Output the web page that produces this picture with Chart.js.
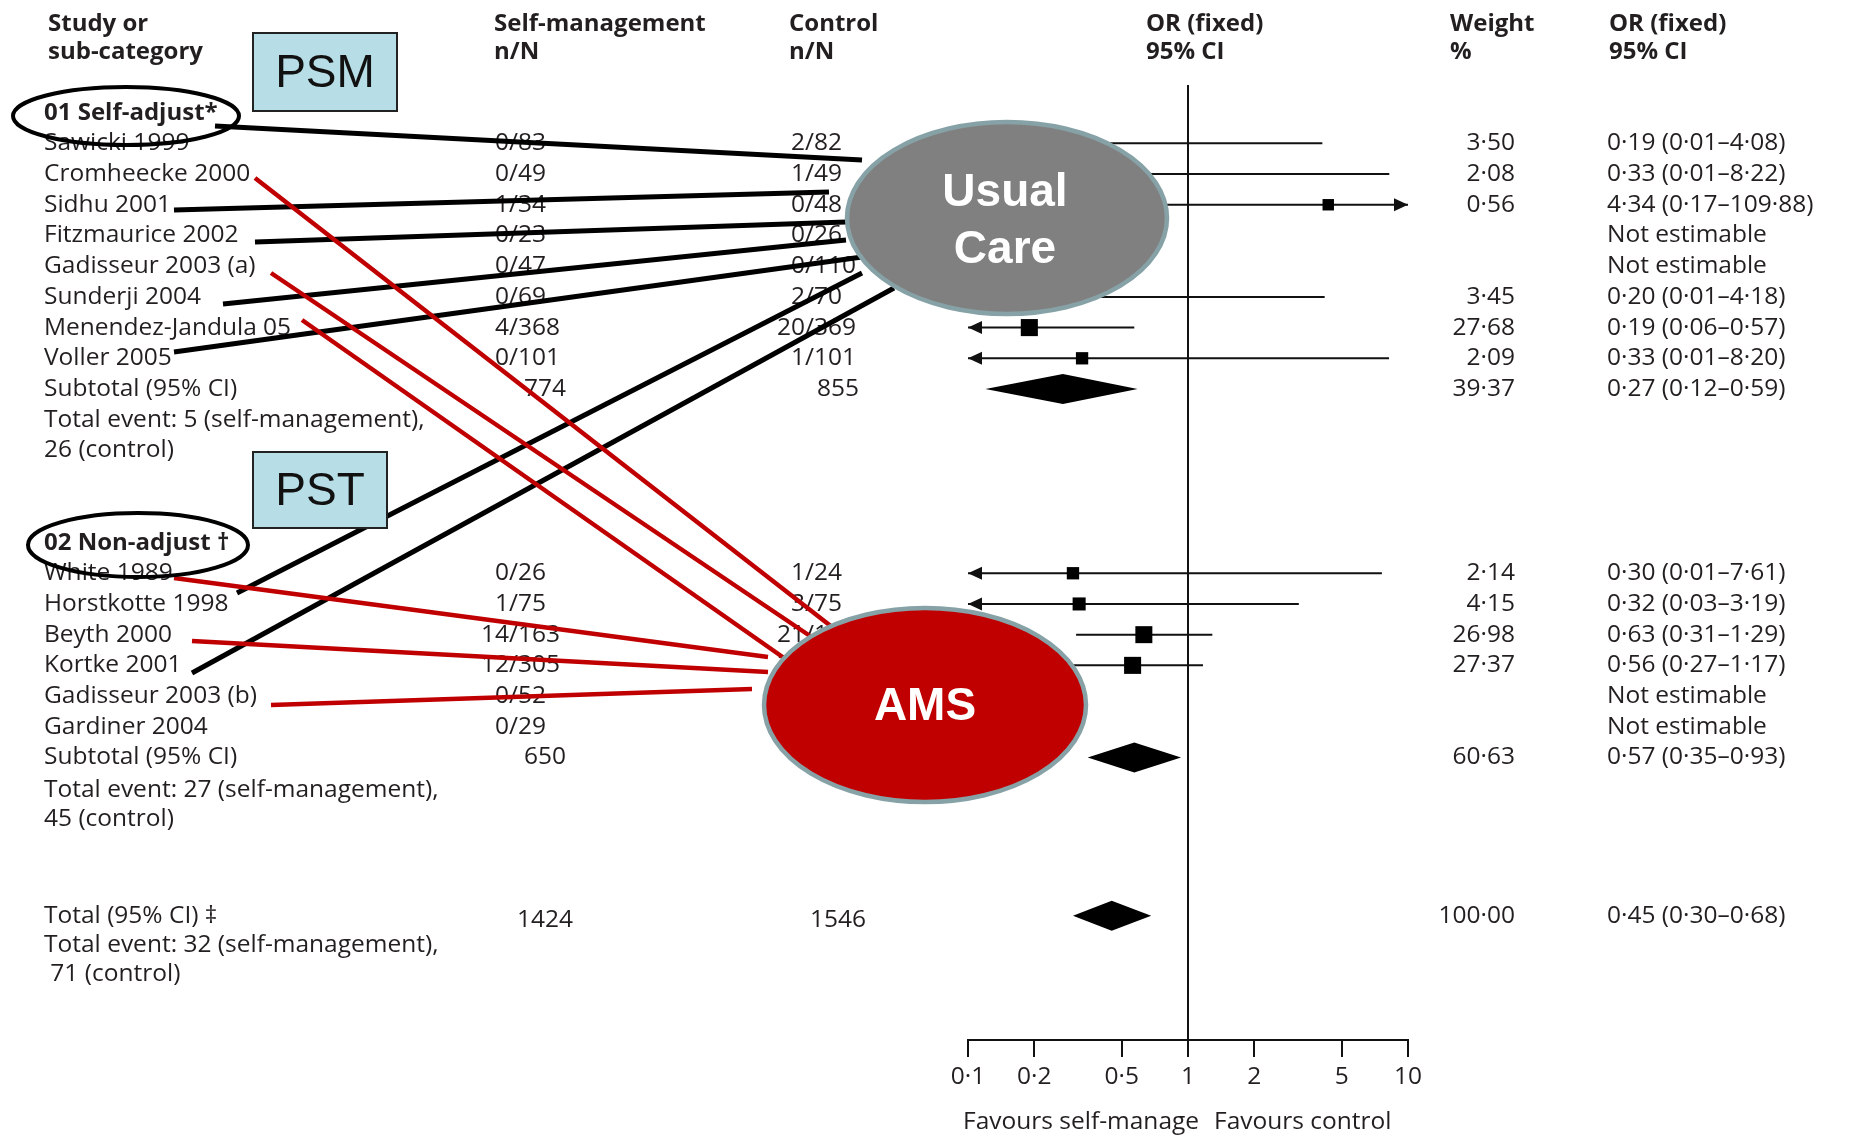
<!DOCTYPE html>
<html>
<head>
<meta charset="utf-8">
<script src="https://cdn.jsdelivr.net/npm/chart.js@4.4.1/dist/chart.umd.min.js"></script>
<style>
  html, body { margin: 0; padding: 0; background: #ffffff; }
  canvas { display: block; }
</style>
</head>
<body>
<canvas id="forest" width="1849" height="1138"></canvas>
<script>
// ---- Study-level data (row index = table line) ----
const studyNames = ['Sawicki 1999', 'Cromheecke 2000', 'Sidhu 2001', 'Fitzmaurice 2002',
  'Gadisseur 2003 (a)', 'Sunderji 2004', 'Menendez-Jandula 05', 'Voller 2005',
  'White 1989', 'Horstkotte 1998', 'Beyth 2000', 'Kortke 2001', 'Gadisseur 2003 (b)', 'Gardiner 2004'];
const studyRows = [0, 1, 2, 3, 4, 5, 6, 7, 14, 15, 16, 17, 18, 19];
const selfEvents = [0, 0, 1, 0, 0, 0, 4, 0, 0, 1, 14, 12, 0, 0];
const selfTotals = [83, 49, 34, 23, 47, 69, 368, 101, 26, 75, 163, 305, 52, 29];
const controlEvents = [2, 1, 0, 0, 0, 2, 20, 1, 1, 3, 21, 20, 0, 0];
const controlTotals = [82, 49, 48, 26, 110, 70, 369, 101, 24, 75, 162, 295, 110, 25];
const studyWeights = [3.50, 2.08, 0.56, null, null, 3.45, 27.68, 2.09, 2.14, 4.15, 26.98, 27.37, null, null];
const studyOR = [0.19, 0.33, 4.34, null, null, 0.20, 0.19, 0.33, 0.30, 0.32, 0.63, 0.56, null, null];
const studyLow = [0.01, 0.01, 0.17, null, null, 0.01, 0.06, 0.01, 0.01, 0.03, 0.31, 0.27, null, null];
const studyHigh = [4.08, 8.22, 109.88, null, null, 4.18, 0.57, 8.20, 7.61, 3.19, 1.29, 1.17, null, null];

// ---- Pooled estimates ----
const pooledNames = ['Subtotal (95% CI)', 'Subtotal (95% CI)', 'Total (95% CI) \u2021'];
const pooledRows = [8, 20, 25.15];
const pooledSelfN = [774, 650, 1424];
const pooledControlN = [855, 691, 1546];
const pooledWeights = [39.37, 60.63, 100.00];
const pooledOR = [0.27, 0.57, 0.45];
const pooledLow = [0.12, 0.35, 0.30];
const pooledHigh = [0.59, 0.93, 0.68];
const pooledSelfEvents = [5, 27, 32];
const pooledControlEvents = [26, 45, 71];
const eventRows = [[9, 10], [21.05, 22], [26.1, 27.05]];

// ---- Subgroup headings ----
const groupNames = ['01 Self-adjust*', '02 Non-adjust \u2020'];
const groupRows = [-0.98, 13.03];

// ---- Axis ----
const xTicks = [0.1, 0.2, 0.5, 1, 2, 5, 10];
const xMin = 0.1, xMax = 10;
const yMin = -1.9, yMax = 29.2;

const TXT = '#231f20';
const FONT = '"Open Sans", Lato, sans-serif';
const dot = v => String(v).replace('.', '\u00B7');
const fmt2 = v => v.toFixed(2).replace('.', '\u00B7');
const ciText = (o, l, h) => `${fmt2(o)} (${fmt2(l)}\u2013${fmt2(h)})`;

// squares for individual study estimates
const squarePoints = [];
const squareRadii = [];
studyOR.forEach((o, i) => {
  if (o === null) return;
  squarePoints.push({ x: o, y: studyRows[i] });
  const side = 10.5 + 1.25 * Math.sqrt(studyWeights[i]);
  squareRadii.push(side / Math.SQRT2);
});

// confidence intervals, arrows and diamonds drawn against the chart scales
const forestMarks = {
  id: 'forestMarks',
  beforeDatasetsDraw(chart) {
    const { ctx, scales: { x, y } } = chart;
    ctx.save();
    ctx.strokeStyle = '#111';
    ctx.fillStyle = '#111';
    ctx.lineWidth = 2;
    studyOR.forEach((o, i) => {
      if (o === null) return;
      const yy = y.getPixelForValue(studyRows[i]);
      const lo = Math.max(studyLow[i], xMin), hi = Math.min(studyHigh[i], xMax);
      const x1 = x.getPixelForValue(lo), x2 = x.getPixelForValue(hi);
      ctx.beginPath();
      ctx.moveTo(x1, yy);
      ctx.lineTo(x2, yy);
      ctx.stroke();
      if (studyLow[i] < xMin) {
        ctx.beginPath();
        ctx.moveTo(x1, yy);
        ctx.lineTo(x1 + 14, yy - 6.5);
        ctx.lineTo(x1 + 14, yy + 6.5);
        ctx.closePath();
        ctx.fill();
      }
      if (studyHigh[i] > xMax) {
        ctx.beginPath();
        ctx.moveTo(x2, yy);
        ctx.lineTo(x2 - 14, yy - 6.5);
        ctx.lineTo(x2 - 14, yy + 6.5);
        ctx.closePath();
        ctx.fill();
      }
    });
    ctx.fillStyle = '#000';
    pooledOR.forEach((o, i) => {
      const yy = y.getPixelForValue(pooledRows[i]);
      ctx.beginPath();
      ctx.moveTo(x.getPixelForValue(pooledLow[i]), yy);
      ctx.lineTo(x.getPixelForValue(o), yy - 15);
      ctx.lineTo(x.getPixelForValue(pooledHigh[i]), yy);
      ctx.lineTo(x.getPixelForValue(o), yy + 15);
      ctx.closePath();
      ctx.fill();
    });
    ctx.restore();
  }
};

// table columns
const COL = {
  study: 44, selfSlash: 509, selfTotal: 545, ctrlSlash: 805, ctrlTotal: 838,
  weightRight: 1515, orText: 1607
};

function txt(ctx, s, x, y, align, font) {
  ctx.font = font;
  ctx.textAlign = align;
  ctx.fillText(s, x, y);
}

const tableText = {
  id: 'tableText',
  afterDatasetsDraw(chart) {
    const { ctx, scales: { x, y } } = chart;
    const reg = `24.5px ${FONT}`;
    const bold = `bold 24px ${FONT}`;
    ctx.save();
    ctx.fillStyle = TXT;
    ctx.textBaseline = 'middle';

    // headings
    const h1 = 24, h2 = 52;
    txt(ctx, 'Study or', 48, h1, 'left', bold);
    txt(ctx, 'sub-category', 48, h2, 'left', bold);
    txt(ctx, 'Self-management', 494, h1, 'left', bold);
    txt(ctx, 'n/N', 494, h2, 'left', bold);
    txt(ctx, 'Control', 789, h1, 'left', bold);
    txt(ctx, 'n/N', 789, h2, 'left', bold);
    txt(ctx, 'OR (fixed)', 1146, h1, 'left', bold);
    txt(ctx, '95% CI', 1146, h2, 'left', bold);
    txt(ctx, 'Weight', 1450, h1, 'left', bold);
    txt(ctx, '%', 1450, h2, 'left', bold);
    txt(ctx, 'OR (fixed)', 1609, h1, 'left', bold);
    txt(ctx, '95% CI', 1609, h2, 'left', bold);

    groupNames.forEach((g, i) => txt(ctx, g, COL.study, y.getPixelForValue(groupRows[i]), 'left', bold));

    studyNames.forEach((name, i) => {
      const yy = y.getPixelForValue(studyRows[i]);
      txt(ctx, name, COL.study, yy, 'left', reg);
      txt(ctx, String(selfEvents[i]), COL.selfSlash, yy, 'right', reg);
      txt(ctx, '/' + selfTotals[i], COL.selfSlash, yy, 'left', reg);
      txt(ctx, String(controlEvents[i]), COL.ctrlSlash, yy, 'right', reg);
      txt(ctx, '/' + controlTotals[i], COL.ctrlSlash, yy, 'left', reg);
      if (studyWeights[i] !== null) txt(ctx, fmt2(studyWeights[i]), COL.weightRight, yy, 'right', reg);
      const right = studyOR[i] === null ? 'Not estimable' : ciText(studyOR[i], studyLow[i], studyHigh[i]);
      txt(ctx, right, COL.orText, yy, 'left', reg);
    });

    pooledNames.forEach((name, i) => {
      const yy = y.getPixelForValue(pooledRows[i]);
      txt(ctx, name, COL.study, yy, 'left', reg);
      txt(ctx, String(pooledSelfN[i]), COL.selfTotal, yy + (i === 2 ? 4 : 0), 'center', reg);
      txt(ctx, String(pooledControlN[i]), COL.ctrlTotal, yy + (i === 2 ? 4 : 0), 'center', reg);
      txt(ctx, fmt2(pooledWeights[i]), COL.weightRight, yy, 'right', reg);
      txt(ctx, ciText(pooledOR[i], pooledLow[i], pooledHigh[i]), COL.orText, yy, 'left', reg);
      const [r1, r2] = eventRows[i];
      txt(ctx, `Total event: ${pooledSelfEvents[i]} (self-management),`, COL.study, y.getPixelForValue(r1), 'left', reg);
      txt(ctx, (i === 2 ? ' ' : '') + `${pooledControlEvents[i]} (control)`, COL.study, y.getPixelForValue(r2), 'left', reg);
    });

    // axis captions
    const cy = chart.chartArea.bottom + 82;
    txt(ctx, 'Favours self-manage', x.getPixelForValue(0.1) - 5, cy, 'left', reg);
    txt(ctx, 'Favours control', x.getPixelForValue(1) + 26, cy, 'left', reg);
    ctx.restore();
  }
};

// callout graphics layered over the table
const CALLOUT = {
  black: [
    [[215, 126], [862, 160]],
    [[174, 210], [829, 192]],
    [[255, 242], [846, 222]],
    [[223, 304], [846, 240]],
    [[174, 352], [862, 257]],
    [[237, 593], [862, 273]],
    [[192, 673], [894, 288]]
  ],
  red: [
    [[255, 178], [832, 627]],
    [[271, 273], [816, 640]],
    [[302, 320], [784, 658]],
    [[174, 578], [768, 657]],
    [[192, 641], [768, 672]],
    [[271, 705], [752, 689]]
  ]
};

function ellipse(ctx, cx, cy, rx, ry) {
  ctx.beginPath();
  ctx.ellipse(cx, cy, rx, ry, 0, 0, Math.PI * 2);
}

function box(ctx, x0, y0, x1, y1, label) {
  ctx.fillStyle = '#b7dee6';
  ctx.fillRect(x0, y0, x1 - x0, y1 - y0);
  ctx.lineWidth = 2;
  ctx.strokeStyle = '#222';
  ctx.strokeRect(x0, y0, x1 - x0, y1 - y0);
  ctx.fillStyle = '#111';
  ctx.font = '46px "Liberation Sans", Arial, sans-serif';
  ctx.textAlign = 'center';
  ctx.textBaseline = 'middle';
  ctx.fillText(label, (x0 + x1) / 2, (y0 + y1) / 2 + 2);
}

const callouts = {
  id: 'callouts',
  afterDraw(chart) {
    const { ctx } = chart;
    ctx.save();
    ctx.lineCap = 'butt';
    ctx.strokeStyle = '#000';
    ctx.lineWidth = 5;
    CALLOUT.black.forEach(([a, b]) => {
      ctx.beginPath(); ctx.moveTo(a[0], a[1]); ctx.lineTo(b[0], b[1]); ctx.stroke();
    });
    ctx.strokeStyle = '#c00000';
    ctx.lineWidth = 4.5;
    CALLOUT.red.forEach(([a, b]) => {
      ctx.beginPath(); ctx.moveTo(a[0], a[1]); ctx.lineTo(b[0], b[1]); ctx.stroke();
    });

    // rings round the subgroup headings
    ctx.strokeStyle = '#000';
    ctx.lineWidth = 4;
    ellipse(ctx, 126, 116, 113, 29); ctx.stroke();
    ellipse(ctx, 138, 545, 110, 32); ctx.stroke();

    box(ctx, 253, 33, 397, 111, 'PSM');
    box(ctx, 253, 452, 387, 528, 'PST');

    // comparator bubbles
    ctx.lineWidth = 4.5;
    ctx.strokeStyle = '#86a2a6';
    ellipse(ctx, 1007, 218, 160, 96);
    ctx.fillStyle = '#808080'; ctx.fill(); ctx.stroke();
    ellipse(ctx, 925, 705, 161, 97);
    ctx.fillStyle = '#c00000'; ctx.fill(); ctx.stroke();

    ctx.fillStyle = '#ffffff';
    ctx.textAlign = 'center';
    ctx.textBaseline = 'middle';
    ctx.font = 'bold 46px "Liberation Sans", Arial, sans-serif';
    ctx.fillText('Usual', 1005, 193);
    ctx.fillText('Care', 1005, 250);
    ctx.fillText('AMS', 925, 707);
    ctx.restore();
  }
};

new Chart(document.getElementById('forest'), {
  type: 'scatter',
  data: {
    datasets: [
      {
        type: 'line',
        label: 'Line of no effect',
        data: [{ x: 1, y: yMin }, { x: 1, y: yMax }],
        borderColor: '#111',
        borderWidth: 2,
        pointRadius: 0,
        order: 2
      },
      {
        label: 'Study OR',
        data: squarePoints,
        pointStyle: 'rect',
        pointRadius: squareRadii,
        backgroundColor: '#000',
        borderWidth: 0,
        order: 1
      }
    ]
  },
  options: {
    responsive: false,
    animation: false,
    devicePixelRatio: 1,
    layout: { padding: { left: 968, right: 441, top: 85, bottom: 38 } },
    plugins: { legend: { display: false }, tooltip: { enabled: false }, title: { display: false } },
    scales: {
      x: {
        type: 'logarithmic',
        min: xMin,
        max: xMax,
        afterBuildTicks: s => { s.ticks = xTicks.map(v => ({ value: v })); },
        afterFit: s => { s.height = 60; },
        ticks: {
          callback: v => dot(v),
          font: { family: 'Open Sans', size: 24.5 },
          color: TXT,
          padding: 5,
          maxRotation: 0,
          autoSkip: false
        },
        grid: { drawOnChartArea: false, drawTicks: true, tickLength: 17, lineWidth: 2, color: '#111' },
        border: { display: true, color: '#111', width: 2 }
      },
      y: { type: 'linear', reverse: true, min: yMin, max: yMax, display: false }
    }
  },
  plugins: [forestMarks, tableText, callouts]
});
</script>
</body>
</html>
